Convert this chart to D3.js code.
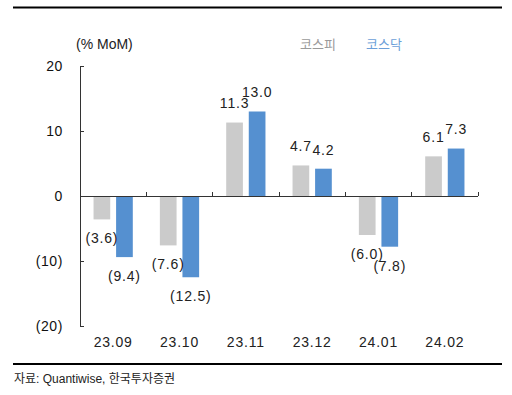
<!DOCTYPE html>
<meta charset="utf-8">
<style>
  body { margin: 0; background: #fff; }
  text { font-family: "Liberation Sans", Arial, "Noto Sans CJK KR", sans-serif; }
  .kr { font-family: "Noto Sans CJK KR", sans-serif; }
  .axis path, .axis line { stroke: #333; shape-rendering: crispEdges; }
  .axis text { font-size: 14px; fill: #111; letter-spacing: 0.6px; }
  .num { letter-spacing: 0.8px; }
</style>
<body>
<script src="https://d3js.org/d3.v7.min.js"></script>
<div id="chart"></div>
<script>

// months on the x axis
var months = ["23.09", "23.10", "23.11", "23.12", "24.01", "24.02"];
// % MoM change
var kospi  = [-3.6, -7.6, 11.3, 4.7, -6.0, 6.1];
var kosdaq = [-9.4, -12.5, 13.0, 4.2, -7.8, 7.3];
var seriesNames = ["코스피", "코스닥"];
var yTicks = [-20, -10, 0, 10, 20];

var width = 512, height = 395;

var svg = d3.select("#chart").append("svg")
    .attr("width", width)
    .attr("height", height);

var x = d3.scaleBand().domain(months).range([80, 478]);
var xs = d3.scaleBand().domain(seriesNames).range([0, x.bandwidth()])
    .paddingInner(0.26).paddingOuter(0.6);
var y = d3.scaleLinear().domain([-20, 20]).range([326, 66]);

var colors = ["#cbcbcb", "#5590d0"];
var legendColors = ["#9a9a9a", "#6c9fd8"];

// top and bottom rules
svg.append("line").attr("x1", 13).attr("x2", 502).attr("y1", 7.5).attr("y2", 7.5)
    .attr("stroke", "#000").attr("stroke-width", 2);
svg.append("line").attr("x1", 13).attr("x2", 502).attr("y1", 364).attr("y2", 364)
    .attr("stroke", "#000").attr("stroke-width", 2);

// bars
var rows = months.map(function(m, i) {
  return { month: m, vals: [kospi[i], kosdaq[i]] };
});

var groups = svg.selectAll(".grp").data(rows).enter().append("g")
    .attr("class", "grp")
    .attr("transform", function(d) { return "translate(" + x(d.month) + ",0)"; });

groups.selectAll("rect").data(function(d) {
    return d.vals.map(function(v, j) { return { name: seriesNames[j], v: v, j: j }; });
  }).enter().append("rect")
    .attr("x", function(d) { return xs(d.name); })
    .attr("width", xs.bandwidth())
    .attr("y", function(d) { return Math.min(y(d.v), y(0)); })
    .attr("height", function(d) { return Math.abs(y(d.v) - y(0)); })
    .attr("fill", function(d) { return colors[d.j]; });

function fmt(v) {
  return v < 0 ? "(" + d3.format(".1f")(-v) + ")" : d3.format(".1f")(v);
}

groups.selectAll(".lbl").data(function(d) {
    return d.vals.map(function(v, j) { return { name: seriesNames[j], v: v }; });
  }).enter().append("text")
    .attr("class", "lbl num")
    .attr("x", function(d) { return xs(d.name) + xs.bandwidth() / 2; })
    .attr("y", function(d) { return d.v >= 0 ? y(d.v) - 19 : y(d.v) + 19; })
    .attr("dy", "0.35em")
    .attr("text-anchor", "middle")
    .style("font-size", "14px")
    .style("fill", "#222")
    .text(function(d) { return fmt(d.v); });

// y axis, ticks pointing inward
var yAxis = svg.append("g").attr("class", "axis")
    .attr("transform", "translate(80,0)")
    .call(d3.axisRight(y).tickValues(yTicks).tickSize(4).tickFormat(function(d) {
      return d < 0 ? "(" + (-d) + ")" : d;
    }));
yAxis.select(".domain").attr("d", "M0," + y(20) + "V" + y(-20));
yAxis.selectAll("text").attr("x", -17).attr("text-anchor", "end");

// x axis along zero, ticks pointing up
var xAxis = svg.append("g").attr("class", "axis")
    .attr("transform", "translate(0," + y(0) + ")");
xAxis.append("line").attr("x1", 80).attr("x2", 478).attr("y1", 0).attr("y2", 0);
xAxis.selectAll(".tk").data(months.slice(1).concat(["end"])).enter().append("line")
    .attr("class", "tk")
    .attr("x1", function(d, i) { return 80 + (i + 1) * x.step(); })
    .attr("x2", function(d, i) { return 80 + (i + 1) * x.step(); })
    .attr("y1", 0).attr("y2", -4);

// month labels
svg.selectAll(".mlab").data(months).enter().append("text")
    .attr("class", "num")
    .attr("x", function(d) { return x(d) + x.bandwidth() / 2; })
    .attr("y", 342)
    .attr("dy", "0.35em")
    .attr("text-anchor", "middle")
    .style("font-size", "14px")
    .style("fill", "#222")
    .text(function(d) { return d; });

// unit
svg.append("text").attr("x", 76).attr("y", 44).attr("dy", "0.35em")
    .style("font-size", "14px").style("fill", "#222").text("(% MoM)");

// legend
svg.selectAll(".leg").data(seriesNames).enter().append("text")
    .attr("class", "kr")
    .attr("x", function(d, i) { return 300 + i * 66; })
    .attr("y", 44).attr("dy", "0.35em")
    .style("font-size", "13px")
    .style("fill", function(d, i) { return legendColors[i]; })
    .text(function(d) { return d; });

// source
svg.append("text").attr("x", 14).attr("y", 379).attr("dy", "0.35em")
    .style("font-size", "12px").style("fill", "#222")
    .text("자료: Quantiwise, 한국투자증권");

</script>
</body>
</html>
